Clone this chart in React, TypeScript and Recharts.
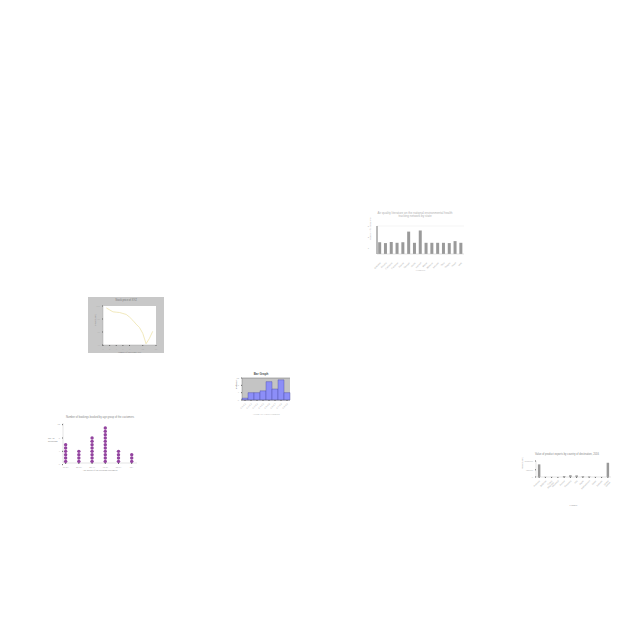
import React from 'react';
import {
  BarChart,
  Bar,
  LineChart,
  Line,
  ScatterChart,
  Scatter,
  XAxis,
  YAxis,
  CartesianGrid,
} from 'recharts';

// air quality literature chart (top right)
const airStates = [
  'Alabama', 'Arizona', 'California', 'Colorado', 'Florida', 'Georgia', 'Illinois', 'Kansas',
  'Maine', 'Missouri', 'Nevada', 'Ohio', 'Oregon', 'Texas', 'Utah',
];
const airCounts = [2.1, 1.95, 2.15, 2.0, 2.1, 4.0, 2.0, 4.2, 2.0, 2.0, 2.0, 2.0, 1.95, 2.3, 2.0];
const airTicks = [0, 1, 2, 3, 4, 5];

// stock price chart (left)
const stockDays = [1, 2, 3, 4, 5, 6, 7, 8, 9, 10, 11, 12, 13, 14, 15];
const stockPrices = [97, 94, 91, 90.5, 90, 88.5, 87, 83, 78, 72, 67, 58, 42, 50, 61];
const stockTicks = [40, 60, 80, 100];

// bar graph (centre)
const expansionBins = ['0.1-0.2', '0.2-0.3', '0.3-0.4', '0.4-0.5', '0.5-0.6', '0.6-0.7', '0.7-0.8', '0.8-0.9'];
const expansionFreq = [1, 4, 4, 5, 10, 6, 11, 4];
const expansionTicks = [0, 1, 2, 3, 4, 5, 6, 7, 8, 9, 10, 11, 12];

// dot plot (bottom left)
const ageGroups = ['18-24', '25-34', '35-44', '45-54', '55-64', '65+'];
const bookingCounts = [6, 4, 8, 11, 4, 3];
const bookingTicks = [0, 2, 4, 6, 8, 10, 12];

// export chart (bottom right)
const countries = [
  'Australia', 'Belgium', 'Czech Republic', 'Denmark', 'France', 'Germany',
  'Italy', 'Japan', 'Netherlands', 'Spain', 'Sweden', 'United States',
];
const exportValues = [790000, 12000, 10000, 4000, 60000, 110000, 100000, 50000, 35000, 8000, 5000, 890000];

const airData = airStates.map((s, i) => ({ state: s, count: airCounts[i] }));
const stockData = stockDays.map((d, i) => ({ day: d, price: stockPrices[i] }));
const expansionData = expansionBins.map((b, i) => ({ bin: i, label: b, freq: expansionFreq[i] }));
const dotData = bookingCounts.flatMap((n, i) =>
  Array.from({ length: n }, (_, k) => ({ group: i, stack: k + 1 }))
);
const exportData = countries.map((c, i) => ({ country: c, value: exportValues[i] }));

const font = 'Liberation Sans, Arial, sans-serif';
const grey = '#b0b0b0';

function Caption(props: {
  x: number;
  y: number;
  w: number;
  size: number;
  color?: string;
  bold?: boolean;
  align?: 'center' | 'left';
  children: React.ReactNode;
}) {
  return (
    <div
      style={{
        position: 'absolute',
        left: props.x,
        top: props.y,
        width: props.w,
        fontSize: props.size,
        lineHeight: 1.15,
        color: props.color || grey,
        fontWeight: props.bold ? 700 : 400,
        textAlign: props.align || 'center',
        fontFamily: font,
        whiteSpace: 'pre-line',
      }}
    >
      {props.children}
    </div>
  );
}

export default function App() {
  const tick = { fontSize: 2.2, fill: grey, fontFamily: font };
  return (
    <div style={{ position: 'absolute', left: 0, top: 0, width: 640, height: 640, background: '#fff', overflow: 'hidden' }}>
      {/* air quality literature */}
      <Caption x={365} y={212} w={100} size={3}>
        {'Air quality literature on the national environmental health\ntracking network by state'}
      </Caption>
      <div style={{ position: 'absolute', left: 360, top: 208 }}>
        <BarChart width={110} height={64} data={airData} margin={{ top: 18, right: 6, bottom: 0, left: 8 }} barCategoryGap="20%">
          <CartesianGrid vertical={false} stroke="#e4e4e4" strokeWidth={0.4} />
          <XAxis
            dataKey="state"
            interval={0}
            angle={-45}
            textAnchor="end"
            height={18}
            tick={tick}
            tickLine={false}
            axisLine={{ stroke: '#ccc', strokeWidth: 0.4 }}
            label={{ value: 'Countries', position: 'insideBottom', offset: 1, style: { fontSize: 2.4, fill: grey } }}
          />
          <YAxis
            width={9}
            domain={[0, 5]}
            ticks={airTicks}
            tick={tick}
            tickLine={false}
            axisLine={{ stroke: '#777', strokeWidth: 1 }}
            label={{ value: 'Number of publications', angle: -90, position: 'insideLeft', offset: 2, style: { fontSize: 2.4, fill: grey } }}
          />
          <Bar dataKey="count" fill="#9a9a9a" isAnimationActive={false} />
        </BarChart>
      </div>

      {/* stock price */}
      <div style={{ position: 'absolute', left: 88, top: 297, width: 76, height: 56, background: '#c8c8c8' }} />
      <Caption x={88} y={300} w={76} size={2.6} color="#777">Stock price of XYZ</Caption>
      <div style={{ position: 'absolute', left: 88, top: 297 }}>
        <LineChart width={76} height={56} data={stockData} margin={{ top: 9, right: 8, bottom: 0, left: 5 }}>
          <CartesianGrid fill="#ffffff" stroke="#ffffff" strokeOpacity={0} />
          <XAxis
            dataKey="day"
            type="number"
            domain={[0, 16]}
            ticks={[0, 2, 4, 6, 8, 10, 12, 14, 16]}
            height={8}
            tick={tick}
            tickSize={1}
            axisLine={{ stroke: '#999', strokeWidth: 0.4 }}
            label={{ value: 'Number of days since IPO', position: 'insideBottom', offset: 0, style: { fontSize: 2.2, fill: '#777' } }}
          />
          <YAxis
            width={10}
            domain={[40, 100]}
            ticks={stockTicks}
            tick={tick}
            tickSize={1}
            axisLine={{ stroke: '#999', strokeWidth: 0.4 }}
            label={{ value: 'Price (USD)', angle: -90, position: 'insideLeft', offset: 2, style: { fontSize: 2.2, fill: '#777' } }}
          />
          <Line dataKey="price" stroke="#ebe0a0" strokeWidth={0.7} dot={false} isAnimationActive={false} />
        </LineChart>
      </div>

      {/* bar graph */}
      <Caption x={228} y={373} w={66} size={3} bold color="#555">Bar Graph</Caption>
      <div style={{ position: 'absolute', left: 228, top: 372 }}>
        <BarChart width={66} height={44} data={expansionData} margin={{ top: 6, right: 4, bottom: 0, left: 6 }} barCategoryGap={0}>
          <CartesianGrid vertical={false} fill="#c4c4c4" stroke="#6a6a6a" strokeWidth={0.5} />
          <XAxis
            dataKey="label"
            interval={0}
            angle={-45}
            textAnchor="end"
            height={16}
            tick={tick}
            tickSize={1}
            axisLine={{ stroke: '#666', strokeWidth: 0.4 }}
            label={{ value: 'Average Net Linear Expansion', position: 'insideBottom', offset: 1, style: { fontSize: 2.2, fill: grey } }}
          />
          <YAxis
            width={8}
            domain={[0, 12]}
            ticks={expansionTicks}
            tick={tick}
            tickSize={1}
            axisLine={{ stroke: '#666', strokeWidth: 0.4 }}
            label={{ value: 'Frequency', angle: -90, position: 'insideLeft', offset: 2, style: { fontSize: 2.2, fill: '#555' } }}
          />
          <Bar dataKey="freq" fill="#8c8ef8" stroke="#4a4aa0" strokeWidth={0.4} isAnimationActive={false} />
        </BarChart>
      </div>

      {/* dot plot */}
      <Caption x={55} y={417} w={90} size={2.6} color="#888">
        Number of bookings booked by age group of the customers
      </Caption>
      <Caption x={48} y={438} w={16} size={2.4} color="#888" align="left">{'No. of\nbookings'}</Caption>
      <div style={{ position: 'absolute', left: 45, top: 415 }}>
        <ScatterChart width={96} height={58} margin={{ top: 8, right: 4, bottom: 0, left: 12 }}>
          <XAxis
            dataKey="group"
            type="number"
            domain={[-0.2, 5.4]}
            ticks={[0, 1, 2, 3, 4, 5]}
            tickFormatter={(v: number) => ageGroups[v]}
            height={10}
            tick={tick}
            tickSize={1}
            axisLine={{ stroke: '#bbb', strokeWidth: 0.4 }}
            label={{ value: 'Age group of the booking customers', position: 'insideBottom', offset: 2, style: { fontSize: 2.4, fill: '#888' } }}
          />
          <YAxis
            dataKey="stack"
            type="number"
            width={6}
            domain={[0.5, 12.5]}
            ticks={bookingTicks}
            allowDataOverflow
            tick={tick}
            tickSize={1}
            axisLine={{ stroke: '#bbb', strokeWidth: 0.4 }}
          />
          <Scatter
            data={dotData}
            fill="#8e3f9c"
            isAnimationActive={false}
            shape={(p: any) => <circle cx={p.cx} cy={p.cy} r={1.7} fill="#93449f" />}
          />
        </ScatterChart>
      </div>

      {/* export values */}
      <Caption x={522} y={454} w={90} size={2.6} color="#888">
        Value of product exports by country of destination, 2016
      </Caption>
      <div style={{ position: 'absolute', left: 520, top: 452 }}>
        <BarChart width={92} height={56} data={exportData} margin={{ top: 9, right: 1, bottom: 0, left: 2 }} barCategoryGap="70%">
          <XAxis
            dataKey="country"
            interval={0}
            angle={-45}
            textAnchor="end"
            height={31}
            tick={tick}
            tickSize={1}
            axisLine={{ stroke: '#bbb', strokeWidth: 0.4 }}
            label={{ value: 'Country', position: 'insideBottom', offset: 2, style: { fontSize: 2.4, fill: '#888' } }}
          />
          <YAxis
            width={14}
            domain={[0, 1000000]}
            tickCount={9}
            tick={tick}
            tickSize={1}
            axisLine={{ stroke: '#bbb', strokeWidth: 0.4 }}
            label={{ value: 'Value (USD)', angle: -90, position: 'insideLeft', offset: 0, style: { fontSize: 2.2, fill: '#888' } }}
          />
          <Bar dataKey="value" fill="#999999" isAnimationActive={false} />
        </BarChart>
      </div>
    </div>
  );
}
